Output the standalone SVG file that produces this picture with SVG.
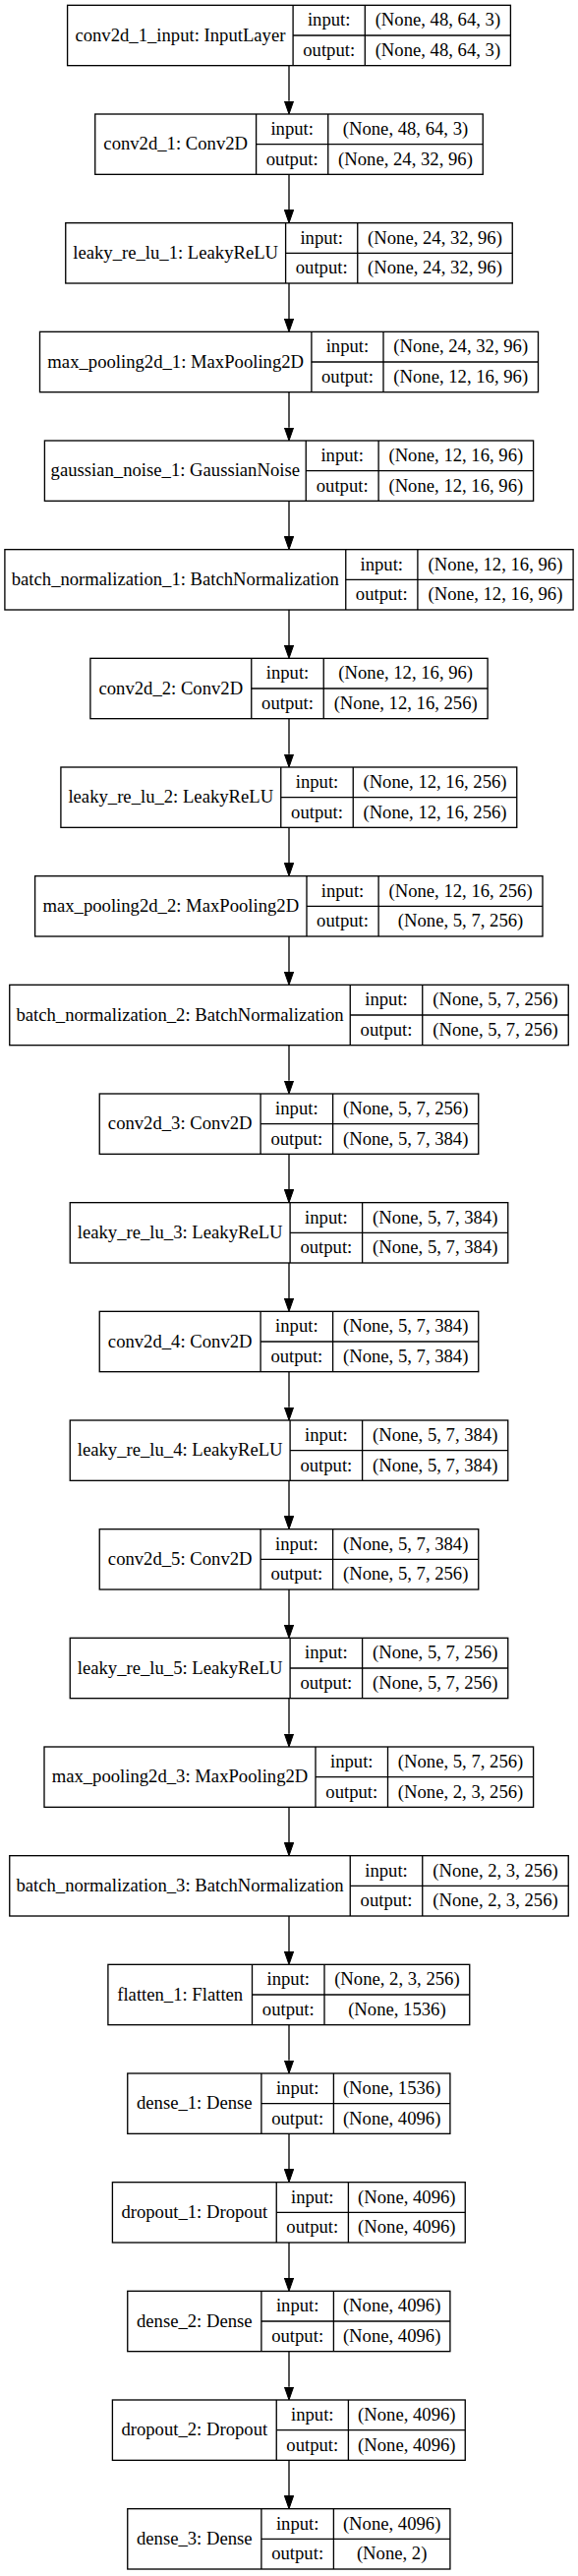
<svg xmlns="http://www.w3.org/2000/svg" width="588" height="2619" viewBox="0 0 588 2619">
<style>
.n rect{fill:none;stroke:#000;stroke-width:1.33}
.n line{stroke:#000;stroke-width:1.33}
.n text{font-family:"Liberation Serif","Times New Roman",serif;font-size:18.67px;text-anchor:middle;fill:#000}
#edges line{stroke:#000;stroke-width:1.33}
</style>
<defs>
<marker id="ah" markerUnits="userSpaceOnUse" markerWidth="14" markerHeight="10" refX="0" refY="4.67" orient="auto" viewBox="0 0 14 10">
<path d="M0,0 L13.33,4.67 L0,9.33 z" fill="#000" stroke="#000" stroke-width="1"/>
</marker>
</defs>
<rect x="0" y="0" width="588" height="2619" fill="#fff"/>
<g id="edges">
<line x1="294" y1="66.67" x2="294" y2="102.67" marker-end="url(#ah)"/>
<line x1="294" y1="177.33" x2="294" y2="213.33" marker-end="url(#ah)"/>
<line x1="294" y1="288" x2="294" y2="324" marker-end="url(#ah)"/>
<line x1="294" y1="398.67" x2="294" y2="434.67" marker-end="url(#ah)"/>
<line x1="294" y1="509.33" x2="294" y2="545.33" marker-end="url(#ah)"/>
<line x1="294" y1="620" x2="294" y2="656" marker-end="url(#ah)"/>
<line x1="294" y1="730.67" x2="294" y2="766.67" marker-end="url(#ah)"/>
<line x1="294" y1="841.33" x2="294" y2="877.33" marker-end="url(#ah)"/>
<line x1="294" y1="952" x2="294" y2="988" marker-end="url(#ah)"/>
<line x1="294" y1="1062.67" x2="294" y2="1098.67" marker-end="url(#ah)"/>
<line x1="294" y1="1173.33" x2="294" y2="1209.33" marker-end="url(#ah)"/>
<line x1="294" y1="1284" x2="294" y2="1320" marker-end="url(#ah)"/>
<line x1="294" y1="1394.67" x2="294" y2="1430.67" marker-end="url(#ah)"/>
<line x1="294" y1="1505.33" x2="294" y2="1541.33" marker-end="url(#ah)"/>
<line x1="294" y1="1616" x2="294" y2="1652" marker-end="url(#ah)"/>
<line x1="294" y1="1726.67" x2="294" y2="1762.67" marker-end="url(#ah)"/>
<line x1="294" y1="1837.33" x2="294" y2="1873.33" marker-end="url(#ah)"/>
<line x1="294" y1="1948" x2="294" y2="1984" marker-end="url(#ah)"/>
<line x1="294" y1="2058.67" x2="294" y2="2094.67" marker-end="url(#ah)"/>
<line x1="294" y1="2169.33" x2="294" y2="2205.33" marker-end="url(#ah)"/>
<line x1="294" y1="2280" x2="294" y2="2316" marker-end="url(#ah)"/>
<line x1="294" y1="2390.67" x2="294" y2="2426.67" marker-end="url(#ah)"/>
<line x1="294" y1="2501.33" x2="294" y2="2537.33" marker-end="url(#ah)"/>
</g>

<g id="conv2d_1_input" class="n" transform="translate(0,5.33)">
<rect x="68.6" y="0" width="450.8" height="61.33"/>
<line x1="298.1" y1="0" x2="298.1" y2="61.33"/><line x1="371.3" y1="0" x2="371.3" y2="61.33"/><line x1="298.1" y1="30.67" x2="519.4" y2="30.67"/>
<text x="183.4" y="36.3">conv2d_1_input: InputLayer</text>
<text x="334.7" y="20.9">input:</text><text x="334.7" y="51.6">output:</text>
<text x="445.4" y="20.9">(None, 48, 64, 3)</text><text x="445.4" y="51.6">(None, 48, 64, 3)</text>
</g>

<g id="conv2d_1" class="n" transform="translate(0,116)">
<rect x="96.75" y="0" width="394.5" height="61.33"/>
<line x1="260.6" y1="0" x2="260.6" y2="61.33"/><line x1="333.75" y1="0" x2="333.75" y2="61.33"/><line x1="260.6" y1="30.67" x2="491.25" y2="30.67"/>
<text x="178.7" y="36.3">conv2d_1: Conv2D</text>
<text x="297.2" y="20.9">input:</text><text x="297.2" y="51.6">output:</text>
<text x="412.5" y="20.9">(None, 48, 64, 3)</text><text x="412.5" y="51.6">(None, 24, 32, 96)</text>
</g>

<g id="leaky_re_lu_1" class="n" transform="translate(0,226.67)">
<rect x="66.75" y="0" width="454.5" height="61.33"/>
<line x1="290.6" y1="0" x2="290.6" y2="61.33"/><line x1="363.75" y1="0" x2="363.75" y2="61.33"/><line x1="290.6" y1="30.67" x2="521.25" y2="30.67"/>
<text x="178.7" y="36.3">leaky_re_lu_1: LeakyReLU</text>
<text x="327.2" y="20.9">input:</text><text x="327.2" y="51.6">output:</text>
<text x="442.5" y="20.9">(None, 24, 32, 96)</text><text x="442.5" y="51.6">(None, 24, 32, 96)</text>
</g>

<g id="max_pooling2d_1" class="n" transform="translate(0,337.33)">
<rect x="40.5" y="0" width="507" height="61.33"/>
<line x1="316.9" y1="0" x2="316.9" y2="61.33"/><line x1="390" y1="0" x2="390" y2="61.33"/><line x1="316.9" y1="30.67" x2="547.5" y2="30.67"/>
<text x="178.7" y="36.3">max_pooling2d_1: MaxPooling2D</text>
<text x="353.45" y="20.9">input:</text><text x="353.45" y="51.6">output:</text>
<text x="468.75" y="20.9">(None, 24, 32, 96)</text><text x="468.75" y="51.6">(None, 12, 16, 96)</text>
</g>

<g id="gaussian_noise_1" class="n" transform="translate(0,448)">
<rect x="45.4" y="0" width="497.2" height="61.33"/>
<line x1="311.25" y1="0" x2="311.25" y2="61.33"/><line x1="385.1" y1="0" x2="385.1" y2="61.33"/><line x1="311.25" y1="30.67" x2="542.6" y2="30.67"/>
<text x="178.3" y="36.3">gaussian_noise_1: GaussianNoise</text>
<text x="348.2" y="20.9">input:</text><text x="348.2" y="51.6">output:</text>
<text x="463.85" y="20.9">(None, 12, 16, 96)</text><text x="463.85" y="51.6">(None, 12, 16, 96)</text>
</g>

<g id="batch_normalization_1" class="n" transform="translate(0,558.67)">
<rect x="4.9" y="0" width="578.2" height="61.33"/>
<line x1="351.75" y1="0" x2="351.75" y2="61.33"/><line x1="424.9" y1="0" x2="424.9" y2="61.33"/><line x1="351.75" y1="30.67" x2="583.1" y2="30.67"/>
<text x="178.3" y="36.3">batch_normalization_1: BatchNormalization</text>
<text x="388.3" y="20.9">input:</text><text x="388.3" y="51.6">output:</text>
<text x="504" y="20.9">(None, 12, 16, 96)</text><text x="504" y="51.6">(None, 12, 16, 96)</text>
</g>

<g id="conv2d_2" class="n" transform="translate(0,669.33)">
<rect x="91.9" y="0" width="404.2" height="61.33"/>
<line x1="255.75" y1="0" x2="255.75" y2="61.33"/><line x1="329.25" y1="0" x2="329.25" y2="61.33"/><line x1="255.75" y1="30.67" x2="496.1" y2="30.67"/>
<text x="173.8" y="36.3">conv2d_2: Conv2D</text>
<text x="292.5" y="20.9">input:</text><text x="292.5" y="51.6">output:</text>
<text x="412.7" y="20.9">(None, 12, 16, 96)</text><text x="412.7" y="51.6">(None, 12, 16, 256)</text>
</g>

<g id="leaky_re_lu_2" class="n" transform="translate(0,780)">
<rect x="61.9" y="0" width="463.85" height="61.33"/>
<line x1="285.75" y1="0" x2="285.75" y2="61.33"/><line x1="359.25" y1="0" x2="359.25" y2="61.33"/><line x1="285.75" y1="30.67" x2="525.75" y2="30.67"/>
<text x="173.8" y="36.3">leaky_re_lu_2: LeakyReLU</text>
<text x="322.5" y="20.9">input:</text><text x="322.5" y="51.6">output:</text>
<text x="442.5" y="20.9">(None, 12, 16, 256)</text><text x="442.5" y="51.6">(None, 12, 16, 256)</text>
</g>

<g id="max_pooling2d_2" class="n" transform="translate(0,890.67)">
<rect x="35.6" y="0" width="516.4" height="61.33"/>
<line x1="312" y1="0" x2="312" y2="61.33"/><line x1="385.1" y1="0" x2="385.1" y2="61.33"/><line x1="312" y1="30.67" x2="552" y2="30.67"/>
<text x="173.8" y="36.3">max_pooling2d_2: MaxPooling2D</text>
<text x="348.55" y="20.9">input:</text><text x="348.55" y="51.6">output:</text>
<text x="468.55" y="20.9">(None, 12, 16, 256)</text><text x="468.55" y="51.6">(None, 5, 7, 256)</text>
</g>

<g id="batch_normalization_2" class="n" transform="translate(0,1001.33)">
<rect x="9.75" y="0" width="568.5" height="61.33"/>
<line x1="356.25" y1="0" x2="356.25" y2="61.33"/><line x1="429.75" y1="0" x2="429.75" y2="61.33"/><line x1="356.25" y1="30.67" x2="578.25" y2="30.67"/>
<text x="183" y="36.3">batch_normalization_2: BatchNormalization</text>
<text x="393" y="20.9">input:</text><text x="393" y="51.6">output:</text>
<text x="504" y="20.9">(None, 5, 7, 256)</text><text x="504" y="51.6">(None, 5, 7, 256)</text>
</g>

<g id="conv2d_3" class="n" transform="translate(0,1112)">
<rect x="101.25" y="0" width="385.5" height="61.33"/>
<line x1="265.1" y1="0" x2="265.1" y2="61.33"/><line x1="338.6" y1="0" x2="338.6" y2="61.33"/><line x1="265.1" y1="30.67" x2="486.75" y2="30.67"/>
<text x="183.2" y="36.3">conv2d_3: Conv2D</text>
<text x="301.85" y="20.9">input:</text><text x="301.85" y="51.6">output:</text>
<text x="412.7" y="20.9">(None, 5, 7, 256)</text><text x="412.7" y="51.6">(None, 5, 7, 384)</text>
</g>

<g id="leaky_re_lu_3" class="n" transform="translate(0,1222.67)">
<rect x="71.25" y="0" width="445.5" height="61.33"/>
<line x1="295.1" y1="0" x2="295.1" y2="61.33"/><line x1="368.6" y1="0" x2="368.6" y2="61.33"/><line x1="295.1" y1="30.67" x2="516.75" y2="30.67"/>
<text x="183.2" y="36.3">leaky_re_lu_3: LeakyReLU</text>
<text x="331.85" y="20.9">input:</text><text x="331.85" y="51.6">output:</text>
<text x="442.7" y="20.9">(None, 5, 7, 384)</text><text x="442.7" y="51.6">(None, 5, 7, 384)</text>
</g>

<g id="conv2d_4" class="n" transform="translate(0,1333.33)">
<rect x="101.25" y="0" width="385.5" height="61.33"/>
<line x1="265.1" y1="0" x2="265.1" y2="61.33"/><line x1="338.6" y1="0" x2="338.6" y2="61.33"/><line x1="265.1" y1="30.67" x2="486.75" y2="30.67"/>
<text x="183.2" y="36.3">conv2d_4: Conv2D</text>
<text x="301.85" y="20.9">input:</text><text x="301.85" y="51.6">output:</text>
<text x="412.7" y="20.9">(None, 5, 7, 384)</text><text x="412.7" y="51.6">(None, 5, 7, 384)</text>
</g>

<g id="leaky_re_lu_4" class="n" transform="translate(0,1444)">
<rect x="71.25" y="0" width="445.5" height="61.33"/>
<line x1="295.1" y1="0" x2="295.1" y2="61.33"/><line x1="368.6" y1="0" x2="368.6" y2="61.33"/><line x1="295.1" y1="30.67" x2="516.75" y2="30.67"/>
<text x="183.2" y="36.3">leaky_re_lu_4: LeakyReLU</text>
<text x="331.85" y="20.9">input:</text><text x="331.85" y="51.6">output:</text>
<text x="442.7" y="20.9">(None, 5, 7, 384)</text><text x="442.7" y="51.6">(None, 5, 7, 384)</text>
</g>

<g id="conv2d_5" class="n" transform="translate(0,1554.67)">
<rect x="101.25" y="0" width="385.5" height="61.33"/>
<line x1="265.1" y1="0" x2="265.1" y2="61.33"/><line x1="338.6" y1="0" x2="338.6" y2="61.33"/><line x1="265.1" y1="30.67" x2="486.75" y2="30.67"/>
<text x="183.2" y="36.3">conv2d_5: Conv2D</text>
<text x="301.85" y="20.9">input:</text><text x="301.85" y="51.6">output:</text>
<text x="412.7" y="20.9">(None, 5, 7, 384)</text><text x="412.7" y="51.6">(None, 5, 7, 256)</text>
</g>

<g id="leaky_re_lu_5" class="n" transform="translate(0,1665.33)">
<rect x="71.25" y="0" width="445.5" height="61.33"/>
<line x1="295.1" y1="0" x2="295.1" y2="61.33"/><line x1="368.6" y1="0" x2="368.6" y2="61.33"/><line x1="295.1" y1="30.67" x2="516.75" y2="30.67"/>
<text x="183.2" y="36.3">leaky_re_lu_5: LeakyReLU</text>
<text x="331.85" y="20.9">input:</text><text x="331.85" y="51.6">output:</text>
<text x="442.7" y="20.9">(None, 5, 7, 256)</text><text x="442.7" y="51.6">(None, 5, 7, 256)</text>
</g>

<g id="max_pooling2d_3" class="n" transform="translate(0,1776)">
<rect x="45" y="0" width="497.6" height="61.33"/>
<line x1="321" y1="0" x2="321" y2="61.33"/><line x1="394.5" y1="0" x2="394.5" y2="61.33"/><line x1="321" y1="30.67" x2="542.6" y2="30.67"/>
<text x="183" y="36.3">max_pooling2d_3: MaxPooling2D</text>
<text x="357.75" y="20.9">input:</text><text x="357.75" y="51.6">output:</text>
<text x="468.55" y="20.9">(None, 5, 7, 256)</text><text x="468.55" y="51.6">(None, 2, 3, 256)</text>
</g>

<g id="batch_normalization_3" class="n" transform="translate(0,1886.67)">
<rect x="9.75" y="0" width="568.5" height="61.33"/>
<line x1="356.25" y1="0" x2="356.25" y2="61.33"/><line x1="429.75" y1="0" x2="429.75" y2="61.33"/><line x1="356.25" y1="30.67" x2="578.25" y2="30.67"/>
<text x="183" y="36.3">batch_normalization_3: BatchNormalization</text>
<text x="393" y="20.9">input:</text><text x="393" y="51.6">output:</text>
<text x="504" y="20.9">(None, 2, 3, 256)</text><text x="504" y="51.6">(None, 2, 3, 256)</text>
</g>

<g id="flatten_1" class="n" transform="translate(0,1997.33)">
<rect x="109.9" y="0" width="367.85" height="61.33"/>
<line x1="256.5" y1="0" x2="256.5" y2="61.33"/><line x1="330" y1="0" x2="330" y2="61.33"/><line x1="256.5" y1="30.67" x2="477.75" y2="30.67"/>
<text x="183.2" y="36.3">flatten_1: Flatten</text>
<text x="293.25" y="20.9">input:</text><text x="293.25" y="51.6">output:</text>
<text x="403.9" y="20.9">(None, 2, 3, 256)</text><text x="403.9" y="51.6">(None, 1536)</text>
</g>

<g id="dense_1" class="n" transform="translate(0,2108)">
<rect x="129.75" y="0" width="328.15" height="61.33"/>
<line x1="265.9" y1="0" x2="265.9" y2="61.33"/><line x1="339.4" y1="0" x2="339.4" y2="61.33"/><line x1="265.9" y1="30.67" x2="457.9" y2="30.67"/>
<text x="197.8" y="36.3">dense_1: Dense</text>
<text x="302.65" y="20.9">input:</text><text x="302.65" y="51.6">output:</text>
<text x="398.65" y="20.9">(None, 1536)</text><text x="398.65" y="51.6">(None, 4096)</text>
</g>

<g id="dropout_1" class="n" transform="translate(0,2218.67)">
<rect x="114.4" y="0" width="358.85" height="61.33"/>
<line x1="281.25" y1="0" x2="281.25" y2="61.33"/><line x1="354.4" y1="0" x2="354.4" y2="61.33"/><line x1="281.25" y1="30.67" x2="473.25" y2="30.67"/>
<text x="197.8" y="36.3">dropout_1: Dropout</text>
<text x="317.8" y="20.9">input:</text><text x="317.8" y="51.6">output:</text>
<text x="413.8" y="20.9">(None, 4096)</text><text x="413.8" y="51.6">(None, 4096)</text>
</g>

<g id="dense_2" class="n" transform="translate(0,2329.33)">
<rect x="129.75" y="0" width="328.15" height="61.33"/>
<line x1="265.9" y1="0" x2="265.9" y2="61.33"/><line x1="339.4" y1="0" x2="339.4" y2="61.33"/><line x1="265.9" y1="30.67" x2="457.9" y2="30.67"/>
<text x="197.8" y="36.3">dense_2: Dense</text>
<text x="302.65" y="20.9">input:</text><text x="302.65" y="51.6">output:</text>
<text x="398.65" y="20.9">(None, 4096)</text><text x="398.65" y="51.6">(None, 4096)</text>
</g>

<g id="dropout_2" class="n" transform="translate(0,2440)">
<rect x="114.4" y="0" width="358.85" height="61.33"/>
<line x1="281.25" y1="0" x2="281.25" y2="61.33"/><line x1="354.4" y1="0" x2="354.4" y2="61.33"/><line x1="281.25" y1="30.67" x2="473.25" y2="30.67"/>
<text x="197.8" y="36.3">dropout_2: Dropout</text>
<text x="317.8" y="20.9">input:</text><text x="317.8" y="51.6">output:</text>
<text x="413.8" y="20.9">(None, 4096)</text><text x="413.8" y="51.6">(None, 4096)</text>
</g>

<g id="dense_3" class="n" transform="translate(0,2550.67)">
<rect x="129.75" y="0" width="328.15" height="61.33"/>
<line x1="265.9" y1="0" x2="265.9" y2="61.33"/><line x1="339.4" y1="0" x2="339.4" y2="61.33"/><line x1="265.9" y1="30.67" x2="457.9" y2="30.67"/>
<text x="197.8" y="36.3">dense_3: Dense</text>
<text x="302.65" y="20.9">input:</text><text x="302.65" y="51.6">output:</text>
<text x="398.65" y="20.9">(None, 4096)</text><text x="398.65" y="51.6">(None, 2)</text>
</g>
</svg>
